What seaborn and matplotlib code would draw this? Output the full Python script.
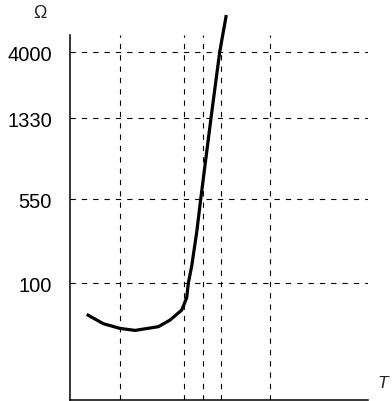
import matplotlib
matplotlib.use("Agg")
import matplotlib.pyplot as plt
import seaborn as sns
import numpy as np

# Resistance–temperature characteristic (schematic, non-linear ohm axis)
temp = [16.7, 33.3, 50.0, 65.0, 88.3, 100.0, 111.7, 116.7, 118.3, 121.7, 126.7, 130.7, 141.0, 149.7, 156.3]
level = [85.0, 75.7, 71.0, 69.0, 72.7, 79.3, 89.3, 101.7, 116.0, 133.3, 167.0, 200.0, 281.0, 347.0, 384.0]

# Ohm tick marks and where they sit on the axis
ohm_labels = ["100", "550", "1330", "4000"]
ohm_levels = [116, 200, 281, 347]

# Reference temperatures (vertical guides)
temp_marks = [50, 113.5, 132.5, 150.5, 199.5]

sns.set_theme(style="white")
plt.rcParams["font.family"] = "sans-serif"
plt.rcParams["font.sans-serif"] = ["Liberation Sans", "DejaVu Sans"]

W, H = 392, 402
fig = plt.figure(figsize=(W / 100, H / 100), dpi=100)
ax = fig.add_axes([70 / W, 1.5 / H, 298 / W, 364.5 / H])

dash = (0, (4.8, 5.4))
for y in ohm_levels:
    ax.axhline(y, color="black", lw=0.8, linestyle=dash, zorder=1)
for x in temp_marks:
    ax.axvline(x, color="black", lw=0.8, linestyle=dash, zorder=1)

sns.lineplot(x=temp, y=level, sort=False, estimator=None, color="black",
             lw=2.3, ax=ax, zorder=3, clip_on=False,
             solid_joinstyle="round", solid_capstyle="butt")

ax.set_xlim(0, 298)
ax.set_ylim(0, 364)
ax.set_xticks([])
ax.set_yticks(ohm_levels)
ax.set_yticklabels(ohm_labels, fontsize=14.5)
ax.tick_params(axis="y", length=0, pad=13, colors="black")
ax.set_xlabel("")
ax.set_ylabel("")

for side in ("top", "right"):
    ax.spines[side].set_visible(False)
for side in ("left", "bottom"):
    ax.spines[side].set_color("black")
    ax.spines[side].set_linewidth(1.1)

fig.text(40 / W, 1 - 14 / H, "Ω", ha="center", va="center", fontsize=13)
fig.text(383 / W, 1 - 384 / H, "T", ha="center", va="center", fontsize=12.5,
         style="italic")

fig.savefig("out.png", dpi=100, facecolor="white")
